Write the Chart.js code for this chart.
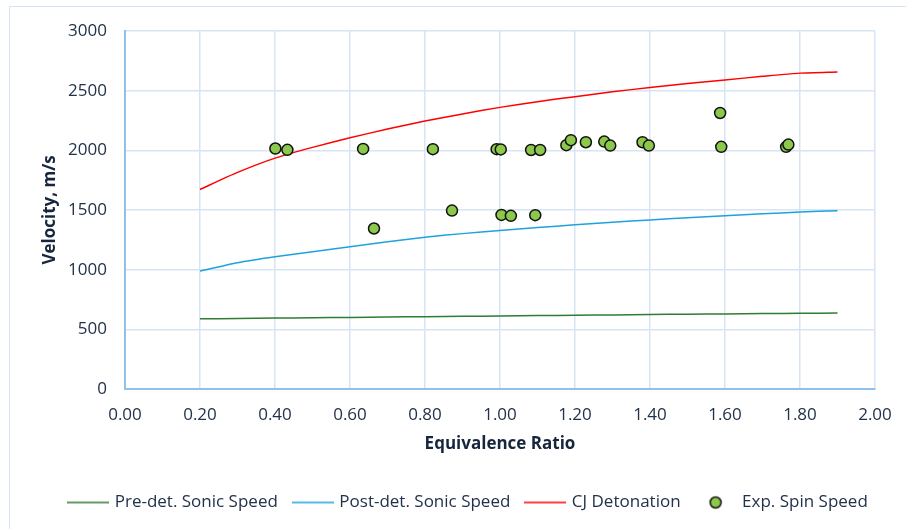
<!DOCTYPE html>
<html>
<head>
<meta charset="utf-8">
<script src="https://cdn.jsdelivr.net/npm/chart.js@4.4.1/dist/chart.umd.min.js"></script>
<style>
    body { margin: 0; background: #ffffff; }
    #cadre { position: relative; width: 906px; height: 529px; }
    #bord {
        position: absolute; left: 9px; top: 6px; width: 920px; height: 540px;
        border-left: 1px solid #d7e4f3; border-top: 1px solid #d7e4f3;
    }
    canvas { position: absolute; left: 0; top: 0; }
</style>
</head>
<body>
<div id="cadre">
    <div id="bord"></div>
    <canvas id="graphique" width="906" height="529"></canvas>
</div>
<script>
// rapport d'équivalence pour les courbes théoriques
const ratios = [0.2, 0.3, 0.4, 0.5, 0.6, 0.7, 0.8, 0.9, 1.0, 1.1, 1.2, 1.3, 1.4, 1.5, 1.6, 1.7, 1.8, 1.9];
const sonPreDet = [588, 591, 594, 597, 600, 603, 606, 609, 612, 615, 618, 621, 624, 627, 629, 632, 634, 636];
const sonPostDet = [988, 1058, 1108, 1150, 1193, 1233, 1272, 1302, 1328, 1353, 1376, 1397, 1417, 1435, 1452, 1468, 1483, 1494];
const detonationCJ = [1672, 1815, 1935, 2025, 2105, 2178, 2245, 2305, 2360, 2408, 2450, 2490, 2527, 2560, 2590, 2620, 2647, 2657];

// points expérimentaux (vitesse de spin)
const expRatios = [0.401, 0.433, 0.635, 0.664, 0.821, 0.872, 0.991, 1.002, 1.004, 1.029, 1.083, 1.094, 1.107,
    1.177, 1.189, 1.229, 1.278, 1.294, 1.380, 1.397, 1.587, 1.590, 1.763, 1.769];
const expVitesses = [2015, 2004, 2012, 1345, 2010, 1495, 2010, 2008, 1459, 1451, 2003, 1457, 2003,
    2043, 2085, 2068, 2073, 2040, 2068, 2040, 2313, 2029, 2029, 2048];

const graduationsX = [0, 0.2, 0.4, 0.6, 0.8, 1.0, 1.2, 1.4, 1.6, 1.8, 2.0];

const vert = "#2e7d32";
const bleu = "#1fa2dc";
const rouge = "#ff0000";
const texte = "#22324a";

function versPoints(xs, ys) {
    const pts = [];
    for (let i = 0; i < xs.length; i++) {
        pts.push({ x: xs[i], y: ys[i] });
    }
    return pts;
}

// icônes de la légende
function iconeLigne(couleur) {
    const c = document.createElement("canvas");
    c.width = 42; c.height = 4;
    const ctx = c.getContext("2d");
    ctx.strokeStyle = couleur;
    ctx.lineWidth = 1.5;
    ctx.beginPath();
    ctx.moveTo(0, 2); ctx.lineTo(42, 2);
    ctx.stroke();
    return c;
}
function iconePoint() {
    const c = document.createElement("canvas");
    c.width = 16; c.height = 16;
    const ctx = c.getContext("2d");
    ctx.fillStyle = "#8cc84b";
    ctx.strokeStyle = "#111111";
    ctx.lineWidth = 1.5;
    ctx.beginPath();
    ctx.arc(8, 8, 5.5, 0, Math.PI * 2);
    ctx.fill(); ctx.stroke();
    return c;
}
const icones = [iconeLigne(vert), iconeLigne(bleu), iconeLigne(rouge), iconePoint()];

const policeBase = { family: "'Open Sans', sans-serif", size: 17 };
const policeTitre = { family: "'Open Sans', sans-serif", size: 17, weight: "bold" };

const ligne = (label, ys, couleur) => ({
    label: label,
    data: versPoints(ratios, ys),
    showLine: true,
    borderColor: couleur,
    backgroundColor: couleur,
    borderWidth: 1.5,
    pointRadius: 0,
    tension: 0.2,
    order: 1
});

const config = {
    type: "scatter",
    data: {
        datasets: [
            ligne("Pre-det. Sonic Speed", sonPreDet, vert),
            ligne("Post-det. Sonic Speed", sonPostDet, bleu),
            ligne("CJ Detonation", detonationCJ, rouge),
            {
                label: "Exp. Spin Speed",
                data: versPoints(expRatios, expVitesses),
                backgroundColor: "#8cc84b",
                borderColor: "#111111",
                borderWidth: 1.5,
                pointRadius: 5.5,
                pointHoverRadius: 5.5,
                order: 0
            }
        ]
    },
    options: {
        responsive: false,
        animation: false,
        layout: { padding: { left: 32, right: 0, top: 31, bottom: 8 } },
        plugins: {
            tooltip: { enabled: false },
            legend: {
                position: "bottom",
                labels: {
                    font: policeBase,
                    color: texte,
                    usePointStyle: true,
                    pointStyleWidth: 36,
                    padding: 17,
                    sort: (a, b) => a.datasetIndex - b.datasetIndex,
                    generateLabels: function (chart) {
                        const items = Chart.defaults.plugins.legend.labels.generateLabels(chart);
                        items.forEach(it => { it.pointStyle = icones[it.datasetIndex]; });
                        return items;
                    }
                }
            }
        },
        scales: {
            x: {
                type: "linear",
                min: 0,
                max: 2,
                afterBuildTicks: axe => { axe.ticks = graduationsX.map(v => ({ value: v })); },
                afterFit: axe => { axe.height = 88; axe.paddingRight = 31; },
                ticks: {
                    font: policeBase,
                    color: texte,
                    padding: 16,
                    maxRotation: 0,
                    callback: v => v.toFixed(2)
                },
                grid: { color: "#d7e4f3", lineWidth: 1.5, drawTicks: false },
                border: { color: "#93c0e8", width: 2 },
                title: {
                    display: true,
                    text: "Equivalence Ratio",
                    color: "#17263d",
                    font: policeTitre,
                    padding: { top: 0, bottom: 23 }
                }
            },
            y: {
                min: 0,
                max: 3000,
                afterFit: axe => { axe.width = 93; },
                ticks: {
                    stepSize: 500,
                    font: policeBase,
                    color: texte,
                    padding: 18,
                    callback: v => String(v)
                },
                grid: { color: "#d7e4f3", lineWidth: 1.5, drawTicks: false },
                border: { color: "#93c0e8", width: 2 },
                title: {
                    display: true,
                    text: "Velocity, m/s",
                    color: "#17263d",
                    font: policeTitre,
                    padding: { top: 8, bottom: 0 }
                }
            }
        }
    }
};

const graphique = new Chart(document.querySelector("#graphique"), config);
</script>
</body>
</html>
